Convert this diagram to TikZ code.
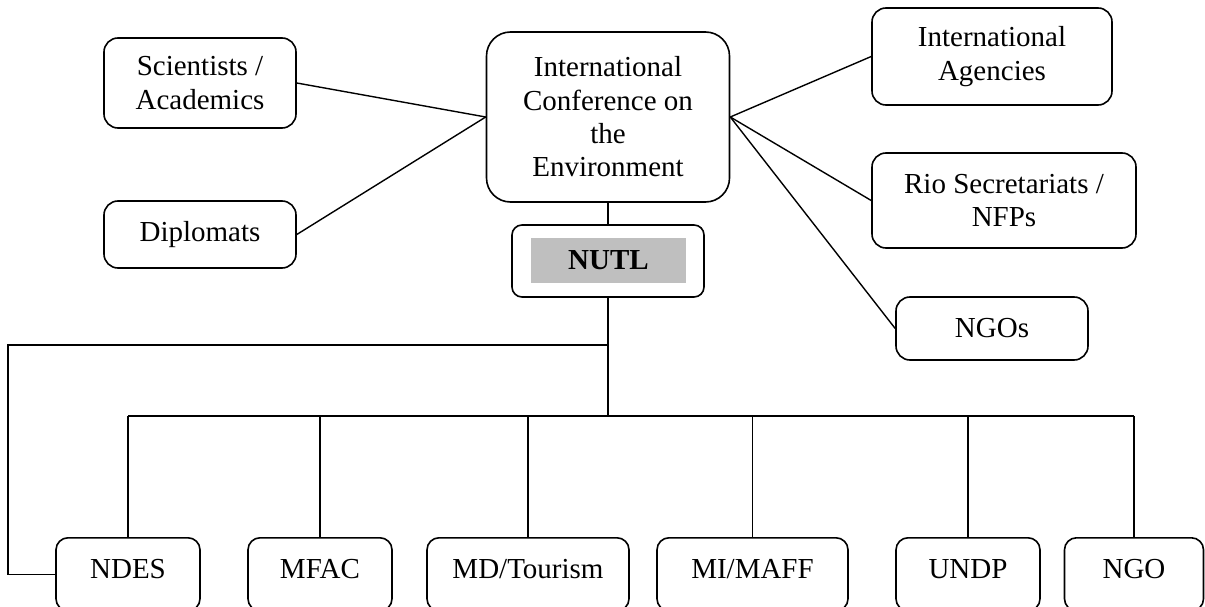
\documentclass[tikz,border=0pt]{standalone}
\usepackage{fontspec}
\setmainfont{Liberation Serif}
\definecolor{shade}{HTML}{BFBFBF}
\begin{document}
\begin{tikzpicture}[x=1pt,y=-1pt,
  box/.style={draw,line width=1.6pt,rounded corners=14pt,align=center,inner sep=0pt,
    font=\fontsize{29}{33.3}\selectfont},
  lowbox/.style={box,anchor=north,rounded corners=12pt,text height=41pt,text depth=32pt},
  link/.style={line width=1.4pt}]
\useasboundingbox (0,0) rectangle (1205,607);

% central conference and coordinating unit
\node[box,rounded corners=24pt,minimum width=243pt,minimum height=170pt] (conf) at (608,117)
  {International\\Conference on\\the\\Environment};
\node[box,rounded corners=10pt,minimum width=192pt,minimum height=72pt] (nutl) at (608,261) {};
\node[fill=shade,minimum width=155pt,minimum height=45pt,inner sep=0pt,
  font=\fontsize{29}{33.3}\selectfont\bfseries] (nutllabel) at (608.5,260.5) {NUTL};

% participants around the conference
\node[box,minimum width=192pt,minimum height=90pt] (sci) at (200,83) {Scientists /\\Academics};
\node[box,minimum width=192pt,minimum height=67pt] (dip) at (200,234.5) {Diplomats};
\node[box,minimum width=240pt,minimum height=97pt] (ia) at (992,56.5) {International\\Agencies};
\node[box,minimum width=264pt,minimum height=95pt] (rio) at (1004,200.5) {Rio Secretariats /\\NFPs};
\node[box,minimum width=192pt,minimum height=63pt] (ngos) at (992,328.5) {NGOs};

% national bodies
\node[lowbox,minimum width=144pt] (ndes) at (128,537) {NDES};
\node[lowbox,minimum width=144pt] (mfac) at (320,537) {MFAC};
\node[lowbox,minimum width=202pt] (md) at (528,537) {MD/Tourism};
\node[lowbox,minimum width=191pt] (mi) at (752.5,537) {MI/MAFF};
\node[lowbox,minimum width=144pt] (undp) at (968,537) {UNDP};
\node[lowbox,minimum width=139pt] (ngo) at (1134,537) {NGO};

% connectors
\draw[link] (sci.east) -- (conf.west);
\draw[link] (dip.east) -- (conf.west);
\draw[link] (conf.east) -- (ia.west);
\draw[link] (conf.east) -- (rio.west);
\draw[link] (conf.east) -- (ngos.west);
\draw[link] (conf.south) -- (nutl.north);

\coordinate (bus) at (608,416);
\coordinate (loop) at (608,345);
\coordinate (corner) at (8,345);
\draw[link] (nutl.south) -- (bus);
\draw[link] (ndes.north |- bus) -- (ngo.north |- bus);
\foreach \b in {ndes,mfac,md,mi,undp,ngo}
  \draw[link] (\b.north |- bus) -- (\b.north);
\draw[link] (loop) -- (corner) -- (corner |- ndes.west) -- (ndes.west);
\end{tikzpicture}
\end{document}
